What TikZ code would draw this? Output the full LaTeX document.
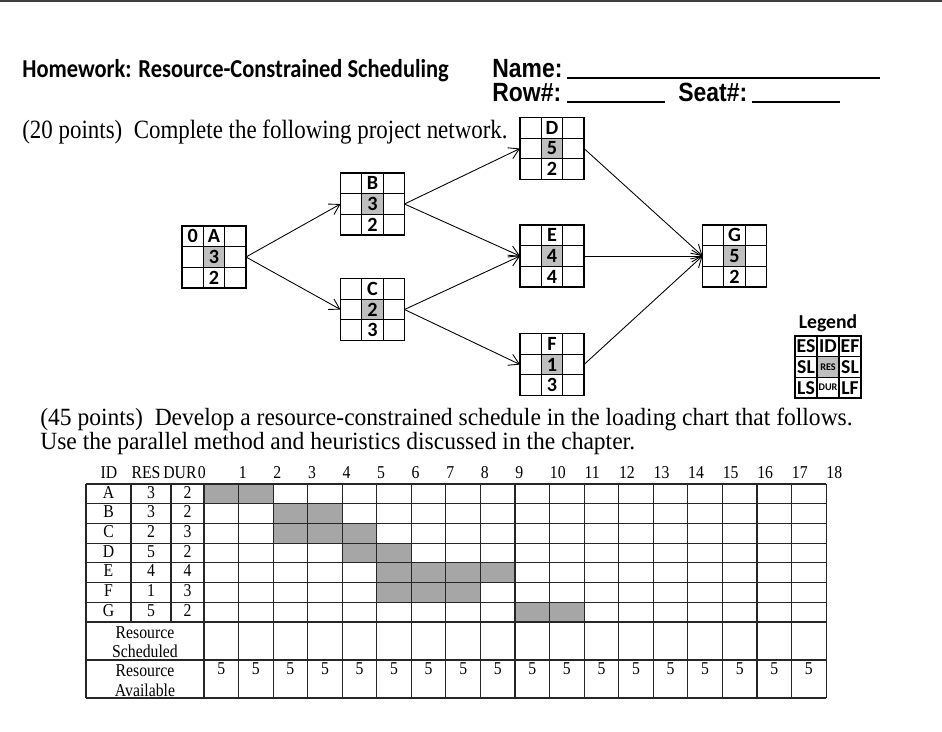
\documentclass[tikz,border=0pt]{standalone}
\usepackage{fontspec}
\setmainfont{Liberation Serif}
\newfontfamily\serifnarrow[FakeStretch=0.87]{Liberation Serif}
\newfontfamily\serifmid[FakeStretch=0.95]{Liberation Serif}
\newfontfamily\calibrifont{Carlito}
\newfontfamily\calibrinarrow[FakeStretch=0.87]{Carlito}
\newfontfamily\arialfont[FakeStretch=0.87]{Liberation Sans}
\usepackage{xcolor}
\usepackage{tikz}
\usetikzlibrary{positioning, arrows.meta}

\definecolor{resgray}{HTML}{BFBFBF}
\definecolor{loadgray}{HTML}{A6A6A6}
\definecolor{rulegray}{HTML}{3F3F3F}

\begin{document}
\begin{tikzpicture}[
    x=0.02cm, y=-0.02cm,
    txt/.style={inner sep=0pt, anchor=base west},
    head/.style={txt, font=\calibrinarrow\bfseries\fontsize{14.7}{16}\selectfont},
    namefont/.style={txt, font=\arialfont\bfseries\fontsize{15}{16}\selectfont},
    para/.style={txt, font=\serifnarrow\fontsize{15}{17}\selectfont},
    para2/.style={txt, font=\serifmid\fontsize{14.1}{15}\selectfont},
    actbox/.style={rectangle, draw, line width=0.6pt, minimum width=1.28cm, minimum height=1.24cm, inner sep=0pt, outer sep=0pt},
    celltxt/.style={inner sep=0pt, font=\calibrifont\bfseries\fontsize{11.5}{10}\selectfont},
    legtxt/.style={inner sep=0pt, font=\calibrifont\bfseries\fontsize{11.2}{10}\selectfont},
    smalltxt/.style={inner sep=0pt, font=\calibrifont\bfseries\fontsize{5.8}{5}\selectfont},
    arrow/.style={-{Straight Barb[length=2mm, width=2.4mm]}, line width=0.5pt},
    tline/.style={draw=black!85, line width=0.65pt},
    thead/.style={inner sep=0pt, anchor=base, font=\serifnarrow\fontsize{10.3}{10}\selectfont},
    tcell/.style={inner sep=0pt, anchor=base, font=\serifnarrow\fontsize{10.3}{11}\selectfont},
]
\useasboundingbox (0,0) rectangle (942,731);

% Page rule
\draw[rulegray, line width=1.2pt] (0,1) -- (942,1);

% Heading
\node[head] (title) at (22,77) {Homework: Resource-Constrained Scheduling};
\node[namefont] (name) at (492,77) {Name:};
\node[namefont] (row) at (492,101) {Row\#:};
\node[namefont] (seat) at (678,101) {Seat\#:};
\draw[line width=1.1pt] (567,78) -- (880,78);
\draw[line width=1.1pt] (567,102) -- (665,102);
\draw[line width=1.1pt] (752,102) -- (840,102);

% Part 1
\node[para] (q1) at (22,138) {(20 points)\ \ Complete the following project network.};

% Activity boxes
\foreach \n/\x/\y/\res/\dur in {A/214/257/3/2, B/372.5/204/3/2, C/372.5/309.5/2/3,
    D/552/148.5/5/2, E/552/256/4/4, F/552/364.5/1/3, G/734.5/256/5/2}{
  \fill[resgray] (\x-10.67,\y-10.33) rectangle (\x+10.67,\y+10.33);
  \node[actbox] (\n) at (\x,\y) {};
  \draw[line width=0.6pt] (\x-10.67,\y-31) -- (\x-10.67,\y+31)
    (\x+10.67,\y-31) -- (\x+10.67,\y+31)
    (\x-32,\y-10.33) -- (\x+32,\y-10.33)
    (\x-32,\y+10.33) -- (\x+32,\y+10.33);
  \node[celltxt] (\n-id) at (\x,\y-20.67) {\n};
  \node[celltxt] (\n-res) at (\x,\y) {\res};
  \node[celltxt] (\n-dur) at (\x,\y+20.67) {\dur};
}
\node[celltxt] (A-es) at (192.7,236.3) {0};

% Arrows
\draw[arrow] (A.east) -- (B.west);
\draw[arrow] (A.east) -- (C.west);
\draw[arrow] (B.east) -- (D.west);
\draw[arrow] (B.east) -- (E.west);
\draw[arrow] (C.east) -- (E.west);
\draw[arrow] (C.east) -- (F.west);
\draw[arrow] (D.east) -- (G.west);
\draw[arrow] (E.east) -- (G.west);
\draw[arrow] (F.east) -- (G.west);

% Legend
\node[legtxt] (legend) at (828,323) {Legend};
\fill[resgray] (817,356.7) rectangle (839,377.3);
\node[actbox, minimum width=1.32cm] (legbox) at (828,367) {};
\draw[line width=0.6pt] (817,336) -- (817,398) (839,336) -- (839,398)
  (795,356.7) -- (861,356.7) (795,377.3) -- (861,377.3);
\node[legtxt] (leg-es) at (806,346.3) {ES};
\node[legtxt] (leg-id) at (828,346.3) {ID};
\node[legtxt] (leg-ef) at (850,346.3) {EF};
\node[legtxt] (leg-sl) at (806,367) {SL};
\node[smalltxt] (leg-res) at (828,367) {RES};
\node[legtxt] (leg-sr) at (850,367) {SL};
\node[legtxt] (leg-ls) at (806,387.7) {LS};
\node[smalltxt] (leg-dur) at (828,387.7) {DUR};
\node[legtxt] (leg-lf) at (850,387.7) {LF};

% Part 2
\node[para2, text depth=1pt] (q2a) at (40,425) {(45 points)\ \ Develop a resource-constrained schedule in the loading chart that follows.};
\node[para2, text height=8pt] (q2b) at (40,449) {Use the parallel method and heuristics discussed in the chapter.};

% Loading chart: shaded bars
\foreach \r/\a/\b in {1/0/1, 2/2/3, 3/2/4, 4/4/5, 5/5/8, 6/5/7, 7/9/10}
  \fill[loadgray] (204+34.56*\a,484+19.71*\r-19.71) rectangle (204+34.56*\b+34.56,484+19.71*\r);

% Loading chart: grid
\foreach \i in {0,...,7}
  \draw[tline] (86,484+19.71*\i) -- (826.1,484+19.71*\i);
\draw[tline] (86,660) -- (826.1,660);
\draw[tline] (86,698) -- (826.1,698);
\draw[tline] (86,484) -- (86,698);
\draw[tline] (131,484) -- (131,622);
\draw[tline] (171,484) -- (171,622);
\foreach \i in {0,...,18}
  \draw[tline] (204+34.56*\i,484) -- (204+34.56*\i,698);

% Loading chart: header
\node[thead] (h-id) at (109,478.5) {ID};
\node[thead] (h-res) at (146,478.5) {RES};
\node[thead] (h-dur) at (180,478.5) {DUR};
\node[thead, anchor=base west] (h-0) at (197.5,478.5) {0};
\foreach \i in {1,...,18}
  \node[thead, anchor=base west] (h-\i) at (204+34.56*\i,478.5) {\i};

% Loading chart: activities
\foreach \r/\n/\res/\dur in {1/A/3/2, 2/B/3/2, 3/C/2/3, 4/D/5/2, 5/E/4/4, 6/F/1/3, 7/G/5/2}{
  \node[tcell] (t-\n) at (108.5,478.3+19.71*\r) {\n};
  \node[tcell] (t-\n-res) at (151,478.3+19.71*\r) {\res};
  \node[tcell] (t-\n-dur) at (187.5,478.3+19.71*\r) {\dur};
}

% Loading chart: resource rows
\node[tcell, anchor=center, align=center] (sched) at (145,642) {Resource\\[0pt]Scheduled};
\node[tcell, anchor=center, align=center] (avail) at (145,680.5) {Resource\\[0pt]Available};
\foreach \i in {0,...,17}
  \node[tcell] (av-\i) at (221.3+34.56*\i,674.5) {5};

\end{tikzpicture}
\end{document}
